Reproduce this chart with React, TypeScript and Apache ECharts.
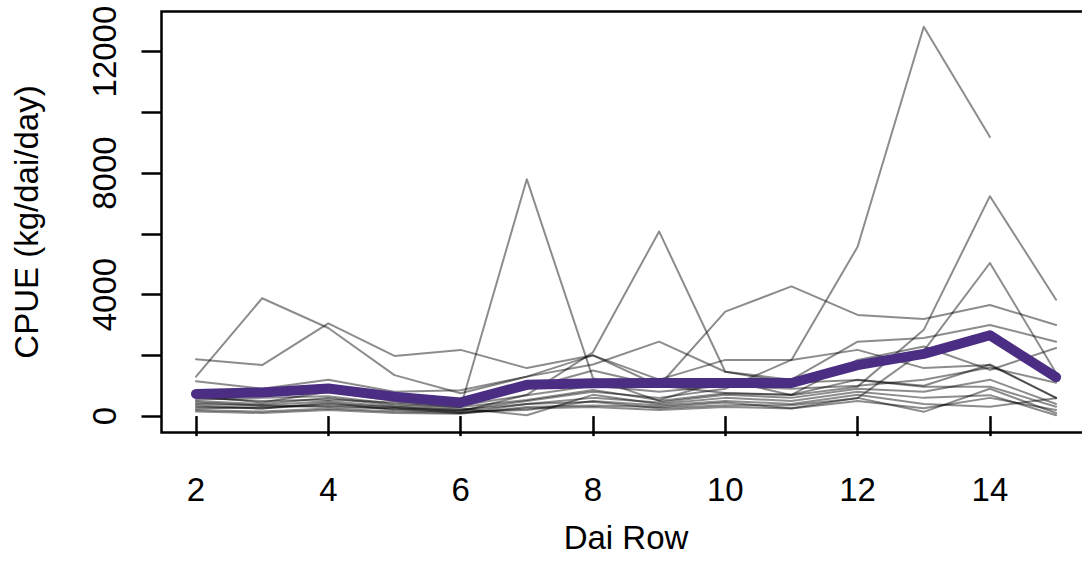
import React, { useEffect, useRef } from "react";
import * as echarts from "echarts";

const daiRows = [2, 3, 4, 5, 6, 7, 8, 9, 10, 11, 12, 13, 14, 15];
const xTicks = [2, 4, 6, 8, 10, 12, 14];
const yTicks = [0, 2000, 4000, 6000, 8000, 10000, 12000];
const yLabels = [0, 4000, 8000, 12000];

const g1 = [450, 350, 500, 300, 200, 500, 800, 600, 900, 1850, 5575, 12820, 9190, null];
const g2 = [550, 600, 650, 400, 300, 7800, 1250, 500, 750, 700, 1200, 1000, 1700, 600];
const g3 = [300, 250, 400, 300, 150, 700, 2100, 6080, 1460, 1200, 2450, 2570, 3000, 2450];
const g4 = [1300, 3880, 2900, 1350, 750, 1300, 2000, 1200, 1850, 1850, 2180, 1580, 1680, 600];
const g5 = [1870, 1680, 3050, 1980, 2180, 1580, 2000, 1000, 760, 700, 1850, 2290, 1520, 2240];
const g6 = [800, 700, 900, 600, 400, 900, 1500, 1000, 3440, 4270, 3330, 3200, 3660, 3000];
const g7 = [600, 500, 550, 450, 300, 530, 860, 530, 1190, 690, 970, 2840, 7240, 3830];
const g8 = [250, 300, 350, 250, 100, 400, 470, 260, 360, 360, 590, 2150, 5040, 1420];
const g9 = [1150, 900, 1200, 800, 850, 1300, 1700, 2450, 1460, 1100, 1190, 970, 970, 310];
const g10 = [500, 400, 600, 350, 250, 30, 700, 400, 600, 500, 800, 600, 690, 30];
const g11 = [350, 250, 450, 200, 150, 200, 500, 350, 500, 400, 700, 400, 310, 590];
const g12 = [150, 100, 200, 100, 80, 300, 350, 300, 450, 260, 600, 140, 900, 100];
const g13 = [650, 450, 800, 500, 350, 690, 1000, 800, 1000, 900, 1000, 1200, 1600, 1100];
const g14 = [400, 350, 300, 250, 200, 400, 600, 450, 700, 600, 900, 800, 1200, 400];
const g15 = [200, 150, 250, 150, 100, 250, 300, 200, 300, 250, 500, 260, 600, 200];
const meanCpue = [730, 780, 910, 640, 450, 1030, 1080, 1090, 1090, 1090, 1680, 2050, 2660, 1280];

const grayLines = [g1, g2, g3, g4, g5, g6, g7, g8, g9, g10, g11, g12, g13, g14, g15];

const FONT = "Liberation Sans, Arial, sans-serif";

export default function App() {
  const ref = useRef<HTMLDivElement>(null);
  useEffect(() => {
    if (!ref.current) return;
    const chart = echarts.init(ref.current, undefined, { renderer: "svg" });
    const pair = (arr: (number | null)[]) => daiRows.map((d, i) => [d, arr[i]]);
    const series: any[] = grayLines.map((arr, k) => ({
      type: "line",
      name: "trip" + (k + 1),
      data: pair(arr),
      symbol: "none",
      connectNulls: false,
      lineStyle: { color: "rgba(0,0,0,0.45)", width: 2, join: "round", cap: "round" },
      silent: true,
    }));
    series.push({
      type: "line",
      name: "mean",
      data: pair(meanCpue),
      symbol: "none",
      lineStyle: { color: "#4b2e83", width: 10, join: "round", cap: "round" },
      z: 5,
    });
    chart.setOption({
      animation: false,
      backgroundColor: "#ffffff",
      textStyle: { fontFamily: FONT },
      grid: {
        left: 161.5,
        top: 11.5,
        width: 929,
        height: 421,
        show: true,
        borderColor: "#000",
        borderWidth: 2.5,
        backgroundColor: "transparent",
        containLabel: false,
        outerBoundsMode: "none",
      },
      xAxis: {
        type: "value",
        min: 1.479,
        max: 15.52,
        axisLine: { show: false },
        splitLine: { show: false },
        axisTick: {
          show: true,
          customValues: xTicks,
          length: 20,
          lineStyle: { color: "#000", width: 2.5 },
        },
        axisLabel: {
          customValues: xTicks,
          formatter: (v: number) => String(v),
          fontSize: 33,
          color: "#000",
          margin: 40,
          fontFamily: FONT,
        },
        name: "Dai Row",
        nameLocation: "middle",
        nameGap: 88,
        nameTextStyle: { fontSize: 33, color: "#000", fontFamily: FONT },
      },
      yAxis: {
        type: "value",
        min: -540,
        max: 13320,
        axisLine: { show: false },
        splitLine: { show: false },
        axisTick: {
          show: true,
          customValues: yTicks,
          length: 20,
          lineStyle: { color: "#000", width: 2.5 },
        },
        axisLabel: {
          customValues: yLabels,
          formatter: (v: number) => String(v),
          rotate: 90,
          fontSize: 33,
          color: "#000",
          margin: 41,
          fontFamily: FONT,
        },
        name: "CPUE (kg/dai/day)",
        nameLocation: "middle",
        nameGap: 119,
        nameTextStyle: { fontSize: 33, color: "#000", fontFamily: FONT },
      },
      series,
    });
    return () => chart.dispose();
  }, []);
  return (
    <div
      ref={ref}
      style={{ position: "fixed", left: 0, top: 0, width: 1082, height: 563, background: "#fff" }}
    />
  );
}
